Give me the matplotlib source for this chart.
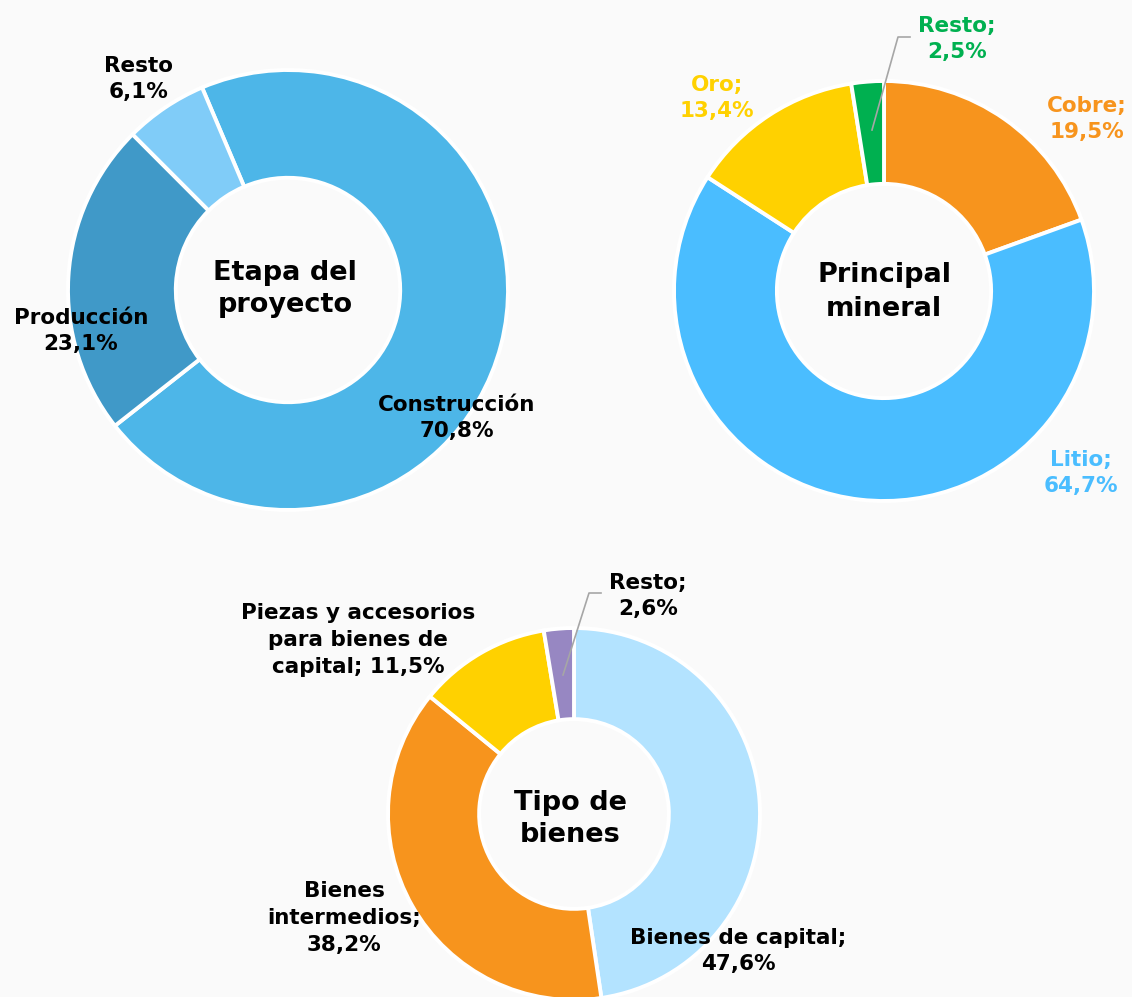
import matplotlib.pyplot as plt

# Etapa del proyecto
etapa_labels = ['Construcción', 'Producción', 'Resto']
etapa_values = [70.8, 23.1, 6.1]
etapa_colors = ['#4DB6E8', '#4099C8', '#80CCF8']

# Principal mineral
mineral_labels = ['Cobre;', 'Litio;', 'Oro;', 'Resto;']
mineral_values = [19.5, 64.7, 13.4, 2.5]
mineral_colors = ['#F7941D', '#4ABDFF', '#FFD100', '#00B050']

# Tipo de bienes
bienes_labels = ['Bienes de capital;', 'Bienes\nintermedios;',
                 'Piezas y accesorios\npara bienes de\ncapital;', 'Resto;']
bienes_sep = ['\n', '\n', ' ', '\n']
bienes_values = [47.6, 38.2, 11.5, 2.6]
bienes_colors = ['#B3E3FF', '#F7941D', '#FFD100', '#9787C2']

W, H = 1132, 997
BG = '#FAFAFA'
plt.rcParams['font.family'] = ['DejaVu Sans']
LAB_FS = 15.5
TIT_FS = 19.5
LAB_LS = 1.42
TIT_LS = 1.35


def Y(py):
    return H - py


def pct(v):
    return f'{v:.1f}%'.replace('.', ',')


fig = plt.figure(figsize=(W / 100, H / 100), dpi=100, facecolor=BG)
ax = fig.add_axes([0, 0, 1, 1])
ax.set_facecolor(BG)

wp = dict(edgecolor='white', linewidth=2.8)

# chart 1
r1 = 220
ax.pie(etapa_values, colors=etapa_colors, center=(288, Y(290)), radius=r1,
       startangle=113, counterclock=False,
       wedgeprops=dict(width=r1 * 0.49, **wp))
pos1 = [(457, 418), (81, 331), (139, 79)]
for lab, v, (px, py) in zip(etapa_labels, etapa_values, pos1):
    ax.text(px, Y(py), f'{lab}\n{pct(v)}', ha='center', va='center',
            fontsize=LAB_FS, fontweight='bold', color='black', linespacing=LAB_LS)
ax.text(285, Y(289), 'Etapa del\nproyecto', ha='center', va='center',
        fontsize=TIT_FS, fontweight='bold', color='black', linespacing=TIT_LS)

# chart 2
r2 = 210
ax.pie(mineral_values, colors=mineral_colors, center=(884, Y(291)), radius=r2,
       startangle=90, counterclock=False,
       wedgeprops=dict(width=r2 * 0.49, **wp))
pos2 = [(1087, 119), (1081, 473), (717, 98), (957, 39)]
for lab, v, c, (px, py) in zip(mineral_labels, mineral_values, mineral_colors, pos2):
    ax.text(px, Y(py), f'{lab}\n{pct(v)}', ha='center', va='center',
            fontsize=LAB_FS, fontweight='bold', color=c, linespacing=LAB_LS)
ax.plot([910, 898, 872], [Y(37), Y(37), Y(130)], color='#A6A6A6', lw=1.2)
ax.text(884, Y(292), 'Principal\nmineral', ha='center', va='center',
        fontsize=TIT_FS, fontweight='bold', color='black', linespacing=TIT_LS)

# chart 3
r3 = 186
ax.pie(bienes_values, colors=bienes_colors, center=(574, Y(814)), radius=r3,
       startangle=90, counterclock=False,
       wedgeprops=dict(width=r3 * 0.49, **wp))
pos3 = [(738, 951), (344, 918), (358, 640), (648, 596)]
for lab, s, v, (px, py) in zip(bienes_labels, bienes_sep, bienes_values, pos3):
    ax.text(px, Y(py), f'{lab}{s}{pct(v)}', ha='center', va='center',
            fontsize=LAB_FS, fontweight='bold', color='black', linespacing=LAB_LS)
ax.plot([601, 589, 563], [Y(593), Y(593), Y(675)], color='#A6A6A6', lw=1.2)
ax.text(570, Y(819), 'Tipo de\nbienes', ha='center', va='center',
        fontsize=TIT_FS, fontweight='bold', color='black', linespacing=TIT_LS)

ax.set_xlim(0, W)
ax.set_ylim(0, H)
ax.set_aspect('equal')
ax.axis('off')

plt.savefig('out.png', dpi=100, facecolor=BG)
